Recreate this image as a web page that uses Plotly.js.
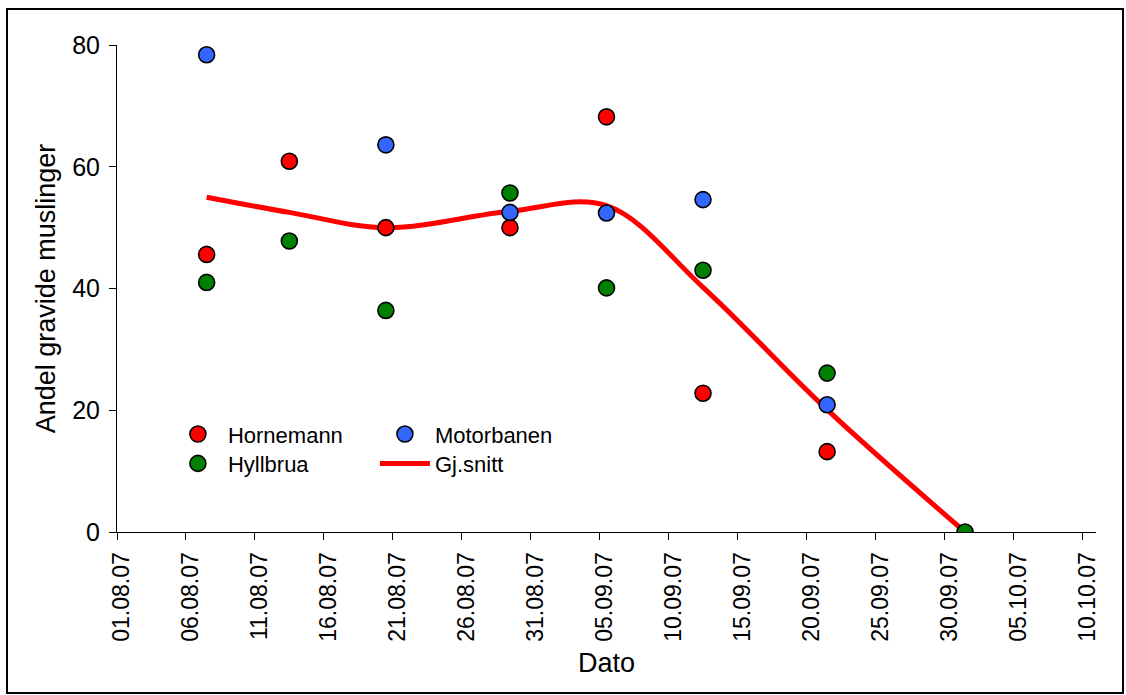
<!DOCTYPE html>
<html>
<head>
<meta charset="utf-8">
<script src="https://cdn.plot.ly/plotly-3.0.1.min.js"></script>
<style>
  html, body { margin: 0; padding: 0; background: #ffffff; }
  #chart { position: absolute; left: 0; top: 0; width: 1126px; height: 695px; }
  #frame { position: absolute; left: 6px; top: 8px; width: 1118px; height: 686px;
           box-sizing: border-box; border: 2px solid #000; pointer-events: none; }
</style>
</head>
<body>
<div id="chart"></div>
<div id="frame"></div>
<script>
// Sampling dates (points plotted at midday)
const dates = ['2007-08-07 12:00', '2007-08-13 12:00', '2007-08-20 12:00', '2007-08-29 12:00',
               '2007-09-05 12:00', '2007-09-12 12:00', '2007-09-21 12:00', '2007-10-01 12:00'];

// Share of gravid mussels per site
const hornemann  = [45.6, 60.9, 50.0, 50.0, 68.2, 22.8, 13.2, null];
const hyllbrua   = [41.0, 47.8, 36.4, 55.7, 40.1, 43.0, 26.1, 0];
const motorbanen = [78.4, null, 63.6, 52.5, 52.4, 54.6, 20.9, null];
const gjsnitt    = [55.0, 52.5, 50.0, 52.7, 53.6, 40.2, 20.1, 0];

const seriesNames = ['Hornemann', 'Hyllbrua', 'Motorbanen', 'Gj.snitt'];
const xTitle = 'Dato';
const yTitle = 'Andel gravide muslinger';

const FONT = 'Arial, "Liberation Sans", sans-serif';

function markerStyle(color) {
  return { size: 16, color: color, line: { color: '#000000', width: 1.6 } };
}

const traces = [
  { x: dates, y: gjsnitt, name: seriesNames[3], type: 'scatter', mode: 'lines',
    line: { color: '#ff0000', width: 5, shape: 'spline', smoothing: 1 },
    legend: 'legend2', legendrank: 2 },
  { x: dates, y: hornemann, name: seriesNames[0], type: 'scatter', mode: 'markers',
    marker: markerStyle('#ff0000'), legend: 'legend', legendrank: 1 },
  { x: dates, y: hyllbrua, name: seriesNames[1], type: 'scatter', mode: 'markers',
    marker: markerStyle('#008000'), legend: 'legend2', legendrank: 1 },
  { x: dates, y: motorbanen, name: seriesNames[2], type: 'scatter', mode: 'markers',
    marker: markerStyle('#3366ff'), legend: 'legend', legendrank: 2 }
];

const legendCommon = {
  orientation: 'h', xanchor: 'left', yanchor: 'middle',
  bgcolor: 'rgba(0,0,0,0)', borderwidth: 0,
  font: { family: FONT, size: 22, color: '#000' },
  itemwidth: 50, entrywidth: 142, entrywidthmode: 'pixels',
  traceorder: 'normal', itemclick: false
};

const layout = {
  width: 1126, height: 695,
  paper_bgcolor: '#ffffff', plot_bgcolor: '#ffffff',
  margin: { l: 117, r: 30, t: 45, b: 163, pad: 0 },
  font: { family: FONT, color: '#000' },
  showlegend: true,
  legend: Object.assign({}, legendCommon, { x: 0.052, y: 0.2007 }),
  legend2: Object.assign({}, legendCommon, { x: 0.052, y: 0.1405 }),
  xaxis: {
    type: 'date',
    range: ['2007-08-01', '2007-10-11'],
    tick0: '2007-08-01', dtick: 5 * 86400000,
    tickformat: '%d.%m.%y', tickangle: -90,
    ticks: 'outside', ticklen: 7, tickcolor: '#000', tickwidth: 1,
    ticklabelshift: 5, ticklabelstandoff: 3,
    showline: true, linecolor: '#000', linewidth: 1,
    showgrid: false, zeroline: false,
    tickfont: { family: FONT, size: 23, color: '#000' },
    title: { text: xTitle, font: { family: FONT, size: 27, color: '#000' }, standoff: 12 },
    automargin: false, fixedrange: true
  },
  yaxis: {
    range: [0, 80], dtick: 20, tick0: 0,
    ticks: 'outside', ticklen: 7, tickcolor: '#000', tickwidth: 1,
    ticklabelstandoff: 4,
    showline: true, linecolor: '#000', linewidth: 1,
    showgrid: false, zeroline: false,
    tickfont: { family: FONT, size: 25, color: '#000' },
    title: { text: yTitle, font: { family: FONT, size: 27, color: '#000' }, standoff: 8 },
    automargin: false, fixedrange: true
  }
};

Plotly.newPlot('chart', traces, layout, { staticPlot: true, displayModeBar: false });
</script>
</body>
</html>
